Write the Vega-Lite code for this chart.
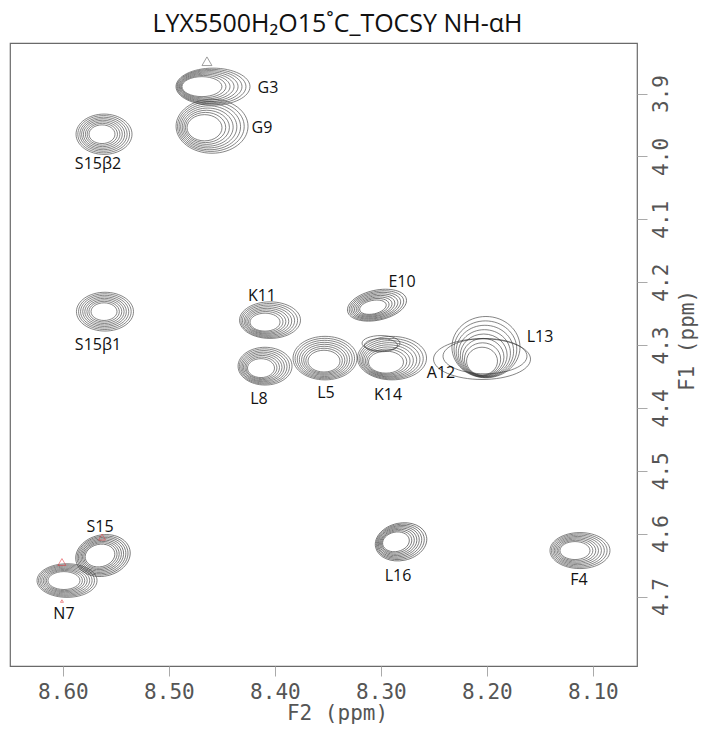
{
  "$schema": "https://vega.github.io/schema/vega-lite/v6.json",
  "autosize": {"type": "none"},
  "padding": {"left": 10, "top": 43, "right": 64, "bottom": 65},
  "width": 627,
  "height": 623,
  "background": "white",
  "title": {"text": "LYX5500H₂O15˚C_TOCSY NH-αH", "font": "Open Sans", "fontSize": 25, "fontWeight": "normal", "color": "#111", "anchor": "middle", "dx": 14, "offset": 6},
  "config": {
    "view": {"stroke": "#6a6a6a", "strokeWidth": 1.2},
    "axis": {"grid": false, "domain": false, "tickColor": "#aaa", "tickSize": 10, "labelFont": "DejaVu Sans Mono", "labelFontSize": 21, "labelColor": "#555", "titleFont": "DejaVu Sans Mono", "titleFontSize": 21, "titleFontWeight": "normal", "titleColor": "#555"}
  },
  "datasets": {
    "rings": [
      {"p":"G3","x":8.4688,"y":3.889,"w":0.0377},{"p":"G3","x":8.4673,"y":3.889,"w":0.0423},{"p":"G3","x":8.4658,"y":3.889,"w":0.0469},{"p":"G3","x":8.4643,"y":3.889,"w":0.0515},{"p":"G3","x":8.4628,"y":3.889,"w":0.0561},{"p":"G3","x":8.4614,"y":3.889,"w":0.0607},{"p":"G3","x":8.4599,"y":3.889,"w":0.0652},{"p":"G3","x":8.4584,"y":3.889,"w":0.0698},
      {"p":"G9","x":8.4664,"y":3.9544,"w":0.0330},{"p":"G9","x":8.4654,"y":3.9540,"w":0.0380},{"p":"G9","x":8.4644,"y":3.9537,"w":0.0430},{"p":"G9","x":8.4634,"y":3.9534,"w":0.0480},{"p":"G9","x":8.4624,"y":3.9530,"w":0.0530},{"p":"G9","x":8.4614,"y":3.9527,"w":0.0580},{"p":"G9","x":8.4604,"y":3.9523,"w":0.0629},{"p":"G9","x":8.4593,"y":3.9520,"w":0.0679},
      {"p":"S15b2","x":8.5631,"y":3.9647,"w":0.0245},{"p":"S15b2","x":8.5628,"y":3.9647,"w":0.0286},{"p":"S15b2","x":8.5625,"y":3.9647,"w":0.0326},{"p":"S15b2","x":8.5623,"y":3.9647,"w":0.0367},{"p":"S15b2","x":8.5620,"y":3.9647,"w":0.0407},{"p":"S15b2","x":8.5617,"y":3.9647,"w":0.0447},{"p":"S15b2","x":8.5615,"y":3.9647,"w":0.0488},{"p":"S15b2","x":8.5612,"y":3.9647,"w":0.0528},
      {"p":"S15b1","x":8.5612,"y":4.2469,"w":0.0245},{"p":"S15b1","x":8.5611,"y":4.2469,"w":0.0287},{"p":"S15b1","x":8.5609,"y":4.2469,"w":0.0329},{"p":"S15b1","x":8.5608,"y":4.2469,"w":0.0371},{"p":"S15b1","x":8.5607,"y":4.2469,"w":0.0412},{"p":"S15b1","x":8.5606,"y":4.2469,"w":0.0454},{"p":"S15b1","x":8.5604,"y":4.2469,"w":0.0496},{"p":"S15b1","x":8.5603,"y":4.2469,"w":0.0538},
      {"p":"K11","x":8.4093,"y":4.2636,"w":0.0283},{"p":"K11","x":8.4086,"y":4.2631,"w":0.0325},{"p":"K11","x":8.4080,"y":4.2627,"w":0.0367},{"p":"K11","x":8.4073,"y":4.2622,"w":0.0408},{"p":"K11","x":8.4066,"y":4.2618,"w":0.0450},{"p":"K11","x":8.4060,"y":4.2613,"w":0.0492},{"p":"K11","x":8.4053,"y":4.2609,"w":0.0534},{"p":"K11","x":8.4046,"y":4.2604,"w":0.0575},
      {"p":"E10","x":8.3075,"y":4.2398,"w":0.0255},{"p":"E10","x":8.3070,"y":4.2393,"w":0.0299},{"p":"E10","x":8.3064,"y":4.2389,"w":0.0344},{"p":"E10","x":8.3059,"y":4.2384,"w":0.0388},{"p":"E10","x":8.3053,"y":4.2380,"w":0.0433},{"p":"E10","x":8.3048,"y":4.2375,"w":0.0477},{"p":"E10","x":8.3042,"y":4.2371,"w":0.0522},{"p":"E10","x":8.3037,"y":4.2366,"w":0.0566},
      {"p":"L8","x":8.4131,"y":4.3367,"w":0.0255},{"p":"L8","x":8.4126,"y":4.3363,"w":0.0291},{"p":"L8","x":8.4120,"y":4.3358,"w":0.0327},{"p":"L8","x":8.4115,"y":4.3354,"w":0.0364},{"p":"L8","x":8.4110,"y":4.3349,"w":0.0400},{"p":"L8","x":8.4104,"y":4.3345,"w":0.0437},{"p":"L8","x":8.4099,"y":4.3340,"w":0.0473},{"p":"L8","x":8.4093,"y":4.3336,"w":0.0509},
      {"p":"L5","x":8.3537,"y":4.3256,"w":0.0302},{"p":"L5","x":8.3536,"y":4.3249,"w":0.0345},{"p":"L5","x":8.3534,"y":4.3242,"w":0.0388},{"p":"L5","x":8.3533,"y":4.3235,"w":0.0431},{"p":"L5","x":8.3532,"y":4.3229,"w":0.0474},{"p":"L5","x":8.3530,"y":4.3222,"w":0.0518},{"p":"L5","x":8.3529,"y":4.3215,"w":0.0561},{"p":"L5","x":8.3527,"y":4.3208,"w":0.0604},
      {"p":"K14","x":8.2952,"y":4.3272,"w":0.0330},{"p":"K14","x":8.2944,"y":4.3263,"w":0.0376},{"p":"K14","x":8.2936,"y":4.3254,"w":0.0422},{"p":"K14","x":8.2928,"y":4.3245,"w":0.0468},{"p":"K14","x":8.2919,"y":4.3235,"w":0.0513},{"p":"K14","x":8.2911,"y":4.3226,"w":0.0559},{"p":"K14","x":8.2903,"y":4.3217,"w":0.0605},{"p":"K14","x":8.2895,"y":4.3208,"w":0.0651},
      {"p":"K14b","x":8.2999,"y":4.2970,"w":0.0358},{"p":"K14b","x":8.2999,"y":4.3002,"w":0.0311},
      {"p":"L13","x":8.2046,"y":4.3256,"w":0.0292},{"p":"L13","x":8.2041,"y":4.3224,"w":0.0342},{"p":"L13","x":8.2035,"y":4.3192,"w":0.0392},{"p":"L13","x":8.2030,"y":4.3160,"w":0.0442},{"p":"L13","x":8.2024,"y":4.3129,"w":0.0492},{"p":"L13","x":8.2019,"y":4.3097,"w":0.0542},{"p":"L13","x":8.2014,"y":4.3065,"w":0.0592},{"p":"L13","x":8.2009,"y":4.3033,"w":0.0642},
      {"p":"A12","x":8.2046,"y":4.3224,"w":0.0915},{"p":"A12","x":8.2018,"y":4.3177,"w":0.0792},
      {"p":"L16","x":8.2858,"y":4.613,"w":0.0255},{"p":"L16","x":8.2851,"y":4.613,"w":0.0288},{"p":"L16","x":8.2844,"y":4.613,"w":0.0322},{"p":"L16","x":8.2837,"y":4.613,"w":0.0356},{"p":"L16","x":8.2831,"y":4.613,"w":0.0390},{"p":"L16","x":8.2824,"y":4.613,"w":0.0423},{"p":"L16","x":8.2817,"y":4.613,"w":0.0457},{"p":"L16","x":8.2810,"y":4.613,"w":0.0491},
      {"p":"F4","x":8.1169,"y":4.6269,"w":0.0283},{"p":"F4","x":8.1162,"y":4.6269,"w":0.0323},{"p":"F4","x":8.1155,"y":4.6269,"w":0.0364},{"p":"F4","x":8.1149,"y":4.6269,"w":0.0404},{"p":"F4","x":8.1142,"y":4.6269,"w":0.0445},{"p":"F4","x":8.1135,"y":4.6269,"w":0.0485},{"p":"F4","x":8.1129,"y":4.6269,"w":0.0526},{"p":"F4","x":8.1122,"y":4.6269,"w":0.0566},
      {"p":"S15","x":8.5650,"y":4.6348,"w":0.0283},{"p":"S15","x":8.5646,"y":4.6348,"w":0.0317},{"p":"S15","x":8.5642,"y":4.6348,"w":0.0350},{"p":"S15","x":8.5638,"y":4.6348,"w":0.0384},{"p":"S15","x":8.5634,"y":4.6348,"w":0.0418},{"p":"S15","x":8.5630,"y":4.6348,"w":0.0452},{"p":"S15","x":8.5626,"y":4.6348,"w":0.0485},{"p":"S15","x":8.5622,"y":4.6348,"w":0.0519},
      {"p":"N7","x":8.5990,"y":4.6746,"w":0.0302},{"p":"N7","x":8.5986,"y":4.6746,"w":0.0340},{"p":"N7","x":8.5982,"y":4.6746,"w":0.0377},{"p":"N7","x":8.5978,"y":4.6746,"w":0.0415},{"p":"N7","x":8.5974,"y":4.6746,"w":0.0453},{"p":"N7","x":8.5970,"y":4.6746,"w":0.0491},{"p":"N7","x":8.5966,"y":4.6746,"w":0.0528},{"p":"N7","x":8.5961,"y":4.6746,"w":0.0566}
    ],
    "small": [
      {"sign":"neg","x":8.6009,"y":4.6451,"w":0.0075},
      {"sign":"neg","x":8.5631,"y":4.6054,"w":0.0066},
      {"sign":"neg","x":8.6009,"y":4.7072,"w":0.0028},
      {"sign":"pos","x":8.4641,"y":3.8486,"w":0.0094}
    ],
    "labels": [
      {"t":"G3","x":8.4065,"y":3.8916},{"t":"G9","x":8.4122,"y":3.9552},
      {"t":"S15β2","x":8.5669,"y":4.0124},{"t":"S15β1","x":8.5669,"y":4.3002},
      {"t":"K11","x":8.4122,"y":4.2223},{"t":"E10","x":8.2801,"y":4.2000},
      {"t":"L8","x":8.4150,"y":4.3860},{"t":"L5","x":8.3518,"y":4.3765},
      {"t":"K14","x":8.2933,"y":4.3796},{"t":"A12","x":8.2433,"y":4.3447},
      {"t":"L13","x":8.1499,"y":4.2874},{"t":"S15","x":8.5650,"y":4.5895},
      {"t":"N7","x":8.5990,"y":4.7278},{"t":"L16","x":8.2839,"y":4.6674},
      {"t":"F4","x":8.1131,"y":4.6738}
    ]
  },
  "encoding": {
    "x": {"field": "x", "type": "quantitative", "scale": {"domain": [8.0584, 8.6499], "reverse": true, "nice": false, "zero": false},
      "axis": {"orient": "bottom", "title": "F2 (ppm)", "values": [8.6, 8.5, 8.4, 8.3, 8.2, 8.1], "format": ".2f", "labelPadding": 5, "titleX": 327, "titleY": 47, "titleBaseline": "middle"}},
    "y": {"field": "y", "type": "quantitative", "scale": {"domain": [3.8196, 4.8105], "reverse": true, "nice": false, "zero": false},
      "axis": {"orient": "right", "title": "F1 (ppm)", "values": [3.9, 4.0, 4.1, 4.2, 4.3, 4.4, 4.5, 4.6, 4.7], "format": ".1f", "labelAngle": 270, "labelAlign": "center", "labelBaseline": "top", "labelPadding": 3, "titleAngle": 270, "titleAlign": "center", "titleBaseline": "top", "titleX": 39, "titleY": 297}}
  },
  "layer": [
    {
      "data": {"name": "rings"},
      "transform": [{"filter": "datum.p !== 'E10' && datum.p !== 'S15' && datum.p !== 'L16'"}],
      "mark": {"type": "point", "filled": false, "strokeWidth": 0.7, "opacity": 0.85, "color": "#333"},
      "encoding": {
        "shape": {"field": "p", "type": "nominal", "legend": null, "scale": {
          "domain": ["G3","G9","S15b2","S15b1","K11","L8","L5","K14","K14b","L13","A12","F4","N7"],
          "range": [
            "M1,0C1,0.276 0.552,0.5 0,0.5C-0.552,0.5 -1,0.276 -1,0C-1,-0.276 -0.552,-0.5 0,-0.5C0.552,-0.5 1,-0.276 1,0Z",
            "M1,0C1,0.414 0.552,0.75 0,0.75C-0.552,0.75 -1,0.414 -1,0C-1,-0.414 -0.552,-0.75 0,-0.75C0.552,-0.75 1,-0.414 1,0Z",
            "M1,0C1,0.398 0.552,0.72 0,0.72C-0.552,0.72 -1,0.398 -1,0C-1,-0.398 -0.552,-0.72 0,-0.72C0.552,-0.72 1,-0.398 1,0Z",
            "M1,0C1,0.376 0.552,0.68 0,0.68C-0.552,0.68 -1,0.376 -1,0C-1,-0.376 -0.552,-0.68 0,-0.68C0.552,-0.68 1,-0.376 1,0Z",
            "M1,0C1,0.331 0.552,0.6 0,0.6C-0.552,0.6 -1,0.331 -1,0C-1,-0.331 -0.552,-0.6 0,-0.6C0.552,-0.6 1,-0.331 1,0Z",
            "M1,0C1,0.387 0.552,0.7 0,0.7C-0.552,0.7 -1,0.387 -1,0C-1,-0.387 -0.552,-0.7 0,-0.7C0.552,-0.7 1,-0.387 1,0Z",
            "M1,0C1,0.376 0.552,0.68 0,0.68C-0.552,0.68 -1,0.376 -1,0C-1,-0.376 -0.552,-0.68 0,-0.68C0.552,-0.68 1,-0.376 1,0Z",
            "M1,0C1,0.348 0.552,0.63 0,0.63C-0.552,0.63 -1,0.348 -1,0C-1,-0.348 -0.552,-0.63 0,-0.63C0.552,-0.63 1,-0.348 1,0Z",
            "M1,0C1,0.221 0.552,0.4 0,0.4C-0.552,0.4 -1,0.221 -1,0C-1,-0.221 -0.552,-0.4 0,-0.4C0.552,-0.4 1,-0.221 1,0Z",
            "M1,0C1,0.497 0.552,0.9 0,0.9C-0.552,0.9 -1,0.497 -1,0C-1,-0.497 -0.552,-0.9 0,-0.9C0.552,-0.9 1,-0.497 1,0Z",
            "M1,0C1,0.232 0.552,0.42 0,0.42C-0.552,0.42 -1,0.232 -1,0C-1,-0.232 -0.552,-0.42 0,-0.42C0.552,-0.42 1,-0.232 1,0Z",
            "M1,0C1,0.331 0.552,0.6 0,0.6C-0.552,0.6 -1,0.331 -1,0C-1,-0.331 -0.552,-0.6 0,-0.6C0.552,-0.6 1,-0.331 1,0Z",
            "M1,0C1,0.309 0.552,0.56 0,0.56C-0.552,0.56 -1,0.309 -1,0C-1,-0.309 -0.552,-0.56 0,-0.56C0.552,-0.56 1,-0.309 1,0Z"
          ]}},
        "size": {"field": "w", "type": "quantitative", "legend": null, "scale": {"type": "pow", "exponent": 2, "domain": [0, 0.1], "range": [0, 11236]}}
      }
    },
    {
      "data": {"name": "rings"},
      "transform": [{"filter": "datum.p === 'E10' || datum.p === 'S15' || datum.p === 'L16'"}],
      "mark": {"type": "point", "filled": false, "strokeWidth": 0.7, "opacity": 0.85, "color": "#333", "angle": -12},
      "encoding": {
        "shape": {"field": "p", "type": "nominal", "legend": null, "scale": {
          "domain": ["E10","S15","L16"],
          "range": [
            "M1,0C1,0.331 0.552,0.6 0,0.6C-0.552,0.6 -1,0.331 -1,0C-1,-0.331 -0.552,-0.6 0,-0.6C0.552,-0.6 1,-0.331 1,0Z",
            "M1,0C1,0.342 0.552,0.62 0,0.62C-0.552,0.62 -1,0.342 -1,0C-1,-0.342 -0.552,-0.62 0,-0.62C0.552,-0.62 1,-0.342 1,0Z",
            "M1,0C1,0.425 0.552,0.77 0,0.77C-0.552,0.77 -1,0.425 -1,0C-1,-0.425 -0.552,-0.77 0,-0.77C0.552,-0.77 1,-0.425 1,0Z"
          ]}},
        "size": {"field": "w", "type": "quantitative", "legend": null, "scale": {"type": "pow", "exponent": 2, "domain": [0, 0.1], "range": [0, 11236]}}
      }
    },
    {
      "data": {"name": "small"},
      "mark": {"type": "point", "filled": false, "strokeWidth": 0.8, "shape": "triangle-up"},
      "encoding": {
        "color": {"field": "sign", "type": "nominal", "legend": null, "scale": {"domain": ["neg", "pos"], "range": ["#e0393e", "#555"]}},
        "size": {"field": "w", "type": "quantitative", "legend": null, "scale": {"type": "pow", "exponent": 2, "domain": [0, 0.1], "range": [0, 11236]}}
      }
    },
    {
      "data": {"name": "labels"},
      "mark": {"type": "text", "font": "Open Sans", "fontSize": 16, "color": "#111", "align": "center", "baseline": "middle"},
      "encoding": {"text": {"field": "t", "type": "nominal"}}
    }
  ]
}
